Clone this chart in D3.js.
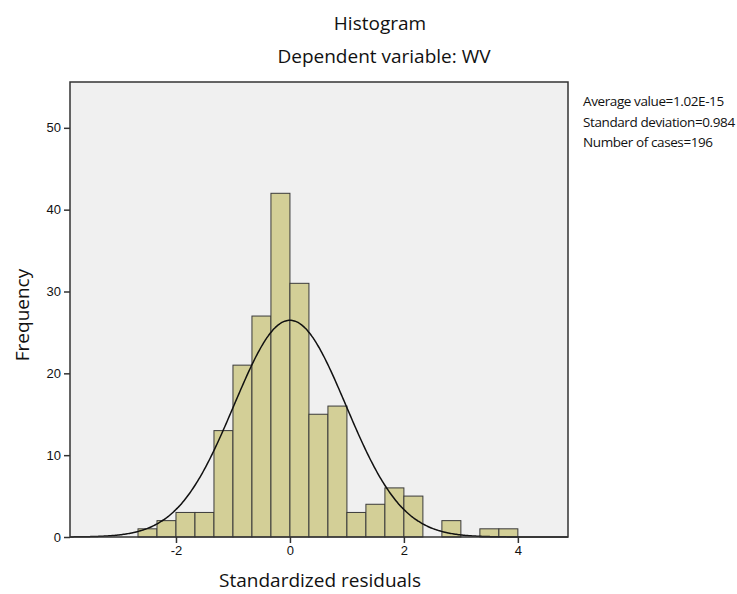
<!DOCTYPE html>
<html>
<head>
<meta charset="utf-8">
<script src="https://cdn.jsdelivr.net/npm/d3@7"></script>
<style>
  body { margin: 0; background: #fff; }
  text { font-family: "Open Sans", sans-serif; fill: #111; }
</style>
</head>
<body>
<svg id="chart" width="737" height="594"></svg>
<script>
const binStart = -8 / 3;
const binWidth = 1 / 3;
const counts = [1, 2, 3, 3, 13, 21, 27, 42, 31, 15, 16, 3, 4, 6, 5, 0, 2, 0, 1, 1];
const xTicks = [-2, 0, 2, 4];
const yTicks = [0, 10, 20, 30, 40, 50];
const stats = ["Average value=1.02E-15", "Standard deviation=0.984", "Number of cases=196"];
const mean = 0, sd = 0.984, n = 196;

const svg = d3.select("#chart");
const plotL = 70, plotR = 568, plotT = 82, plotB = 537;

const x = d3.scaleLinear().domain([-3.86, 4.88]).range([plotL, plotR]);
const y = d3.scaleLinear().domain([0, 55.6]).range([plotB, plotT]);

const bins = counts.map((c, i) => ({ x0: binStart + i * binWidth, x1: binStart + (i + 1) * binWidth, c: c }));

svg.append("rect")
  .attr("x", plotL).attr("y", plotT)
  .attr("width", plotR - plotL).attr("height", plotB - plotT)
  .attr("fill", "#f0f0f0");

svg.append("g").selectAll("rect")
  .data(bins.filter(d => d.c > 0))
  .join("rect")
  .attr("x", d => x(d.x0))
  .attr("y", d => y(d.c))
  .attr("width", d => x(d.x1) - x(d.x0))
  .attr("height", d => y(0) - y(d.c))
  .attr("fill", "#d3cf97")
  .attr("stroke", "#3a3a3a")
  .attr("stroke-width", 1);

// normal curve scaled to the histogram
const pts = d3.range(-3.86, 4.881, 0.02);
const line = d3.line()
  .x(d => x(d))
  .y(d => y(n * binWidth * Math.exp(-0.5 * ((d - mean) / sd) ** 2) / (sd * Math.sqrt(2 * Math.PI))))
  .curve(d3.curveBasis);
svg.append("path")
  .datum(pts)
  .attr("d", line)
  .attr("fill", "none")
  .attr("stroke", "#111")
  .attr("stroke-width", 1.5);

svg.append("rect")
  .attr("x", plotL).attr("y", plotT)
  .attr("width", plotR - plotL).attr("height", plotB - plotT)
  .attr("fill", "none")
  .attr("stroke", "#333")
  .attr("stroke-width", 1.5);

const xAxis = svg.append("g")
  .attr("transform", `translate(0,${plotB})`)
  .call(d3.axisBottom(x).tickValues(xTicks).tickFormat(d => String(d)).tickSize(6).tickSizeOuter(0));
const yAxis = svg.append("g")
  .attr("transform", `translate(${plotL},0)`)
  .call(d3.axisLeft(y).tickValues(yTicks).tickFormat(d => String(d)).tickSize(6).tickSizeOuter(0));
[xAxis, yAxis].forEach(g => {
  g.select(".domain").remove();
  g.selectAll("line").attr("stroke", "#333").attr("stroke-width", 1.5);
  g.selectAll("text").style("font-family", "Liberation Sans, Arial, sans-serif").style("font-size", "13px").attr("fill", "#333");
});

svg.append("text")
  .attr("x", 380).attr("y", 30)
  .attr("text-anchor", "middle")
  .style("font-size", "19px")
  .text("Histogram");
svg.append("text")
  .attr("x", 384).attr("y", 63)
  .attr("text-anchor", "middle")
  .style("font-size", "19px")
  .text("Dependent variable: WV");

svg.append("text")
  .attr("transform", `translate(29,315) rotate(-90)`)
  .attr("text-anchor", "middle")
  .style("font-size", "19px")
  .text("Frequency");

svg.append("text")
  .attr("x", 320).attr("y", 587)
  .attr("text-anchor", "middle")
  .style("font-size", "19px")
  .text("Standardized residuals");

svg.append("g").selectAll("text")
  .data(stats)
  .join("text")
  .attr("x", 583)
  .attr("y", (d, i) => 106 + i * 20.5)
  .style("font-size", "13.5px")
  .style("letter-spacing", "-0.4px")
  .text(d => d);
</script>
</body>
</html>
